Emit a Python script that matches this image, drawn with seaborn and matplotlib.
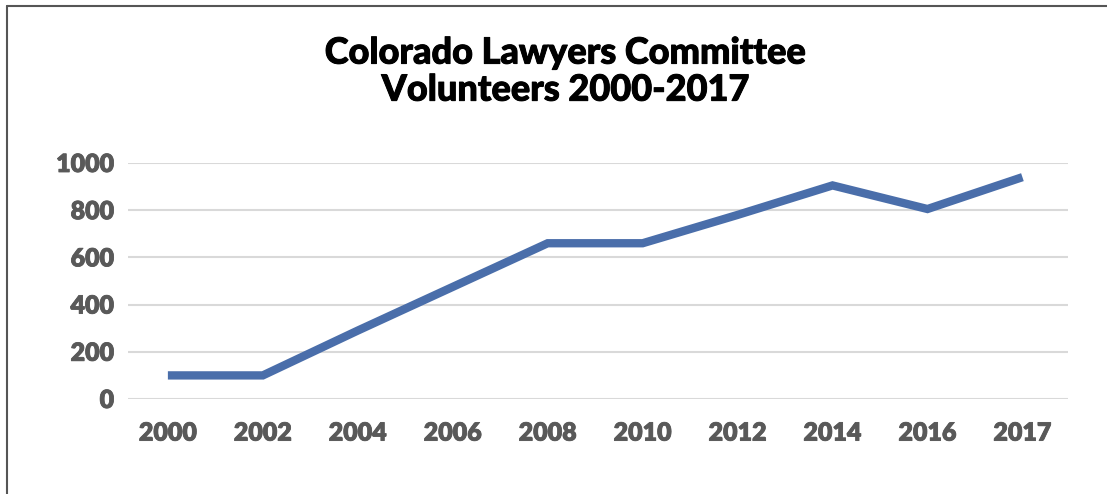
import matplotlib
matplotlib.use('Agg')
import matplotlib.pyplot as plt
import matplotlib.patheffects as pe
import seaborn as sns
import pandas as pd
from matplotlib.lines import Line2D

years = ['2000', '2002', '2004', '2006', '2008', '2010', '2012', '2014', '2016', '2017']
volunteers = [100, 100, 290, 475, 660, 660, 780, 905, 805, 940]
yticks = [0, 200, 400, 600, 800, 1000]

sns.set_theme(style='white')
plt.rcParams['font.family'] = ['Lato', 'DejaVu Sans']

df = pd.DataFrame({'year': years, 'volunteers': volunteers})

fig = plt.figure(figsize=(11.07, 4.94), dpi=100)
ax = fig.add_axes([128 / 1107, 1 - 399 / 494, (1068 - 128) / 1107, (399 - 163) / 494])

sns.lineplot(data=df, x='year', y='volunteers', sort=False, color='#4a6eaa',
             linewidth=6, ax=ax, solid_capstyle='butt', solid_joinstyle='miter')

ax.set_xlim(-0.42, 9.48)
ax.set_ylim(0, 1000)
ax.set_yticks(yticks)
ax.grid(axis='y', color='#d9d9d9', linewidth=1.5)
ax.set_axisbelow(True)
for s in ax.spines.values():
    s.set_visible(False)
ax.set_xlabel('')
ax.set_ylabel('')
ax.tick_params(axis='y', length=0, pad=10, labelsize=18, labelcolor='#595959')
ax.tick_params(axis='x', length=0, pad=17, labelsize=18, labelcolor='#595959')
ax.set_yticklabels([str(v) for v in yticks])
for lab in ax.get_xticklabels() + ax.get_yticklabels():
    lab.set_fontweight('heavy')
    lab.set_path_effects([pe.withStroke(linewidth=0.6, foreground='#595959')])

fig.text(0.511, 0.855, 'Colorado Lawyers Committee\nVolunteers 2000-2017', ha='center', va='center',
         fontsize=26, fontweight='black', color='black', linespacing=1.15,
         path_effects=[pe.withStroke(linewidth=0.7, foreground='black')])

# frame at left and top
fig.add_artist(Line2D([7 / 1107, 7 / 1107], [0, 1 - 6 / 494], color='#555555', linewidth=1.5,
                      transform=fig.transFigure))
fig.add_artist(Line2D([7 / 1107, 1], [1 - 6 / 494, 1 - 6 / 494], color='#555555', linewidth=1.5,
                      transform=fig.transFigure))

fig.savefig('out.png', dpi=100)
